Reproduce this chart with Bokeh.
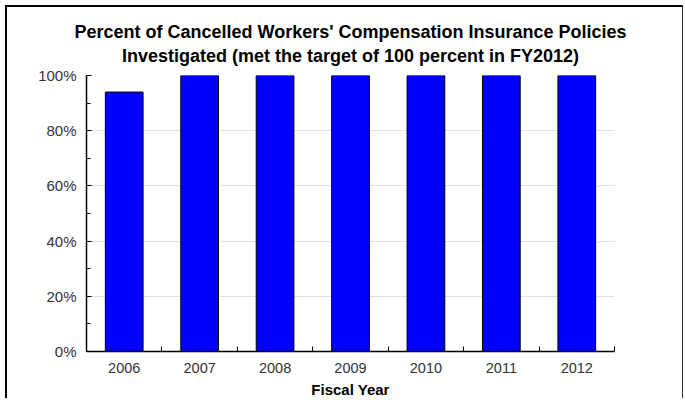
from bokeh.plotting import figure
from bokeh.models import FixedTicker, PrintfTickFormatter, Range1d
from bokeh.embed import file_html
from bokeh.resources import INLINE

years = ["2006", "2007", "2008", "2009", "2010", "2011", "2012"]
percent = [94, 100, 100, 100, 100, 100, 100]
y_ticks = [0, 20, 40, 60, 80, 100]
y_minor = [10, 30, 50, 70, 90]

xpos = list(range(1, len(years) + 1))
boundaries = [i + 0.5 for i in xpos]

p = figure(width=678, height=393, output_backend="svg", toolbar_location=None,
           x_range=Range1d(0.5, len(years) + 0.5), y_range=Range1d(0, 100),
           min_border_left=79, min_border_right=71, min_border_top=68, min_border_bottom=49,
           title="Percent of Cancelled Workers' Compensation Insurance Policies\nInvestigated (met the target of 100 percent in FY2012)")
p.styles = {"margin-left": "5px", "margin-top": "5px",
            "border-left": "2px solid #000", "border-top": "2px solid #000",
            "border-right": "1px solid #333", "box-sizing": "border-box"}

p.title.align = "center"
p.title.text_align = "center"
p.title.text_font = "Liberation Sans"
p.title.text_font_size = "18px"
p.title.text_font_style = "bold"
p.title.text_color = "#000000"
p.title.standoff = 19
p.title.text_line_height = 1.2

p.vbar(x=xpos, top=percent, width=0.5, fill_color="#0000ff", line_color="#000000", line_width=1)

p.outline_line_color = None
p.background_fill_color = "white"

p.xgrid.visible = False
p.ygrid.ticker = FixedTicker(ticks=y_ticks[1:])
p.ygrid.grid_line_color = "#e0e0e0"
p.ygrid.grid_line_width = 1

xa = p.xaxis[0]
xa.ticker = FixedTicker(ticks=xpos, minor_ticks=boundaries)
xa.major_label_overrides = {x: y for x, y in zip(xpos, years)}
xa.major_tick_in = 0
xa.major_tick_out = 0
xa.minor_tick_in = 5
xa.minor_tick_out = 0
xa.axis_line_color = "#000000"
xa.axis_line_width = 1.5
xa.minor_tick_line_color = "#000000"
xa.major_label_text_font = "Liberation Sans"
xa.major_label_text_font_size = "14.5px"
xa.major_label_text_color = "#333333"
xa.major_label_standoff = 11
xa.axis_label = "Fiscal Year"
xa.axis_label_text_font = "Liberation Sans"
xa.axis_label_text_font_size = "15px"
xa.axis_label_text_font_style = "bold"
xa.axis_label_text_color = "#000000"
xa.axis_label_standoff = 5

ya = p.yaxis[0]
ya.ticker = FixedTicker(ticks=y_ticks, minor_ticks=y_minor)
ya.formatter = PrintfTickFormatter(format="%d%%")
ya.major_tick_in = 5
ya.major_tick_out = 0
ya.minor_tick_in = 4
ya.minor_tick_out = 0
ya.axis_line_color = "#000000"
ya.axis_line_width = 1.5
ya.major_tick_line_color = "#000000"
ya.minor_tick_line_color = "#000000"
ya.major_label_text_font = "Liberation Sans"
ya.major_label_text_font_size = "15px"
ya.major_label_text_color = "#333333"
ya.major_label_standoff = 10

open("out.html", "w").write(file_html(p, INLINE))
